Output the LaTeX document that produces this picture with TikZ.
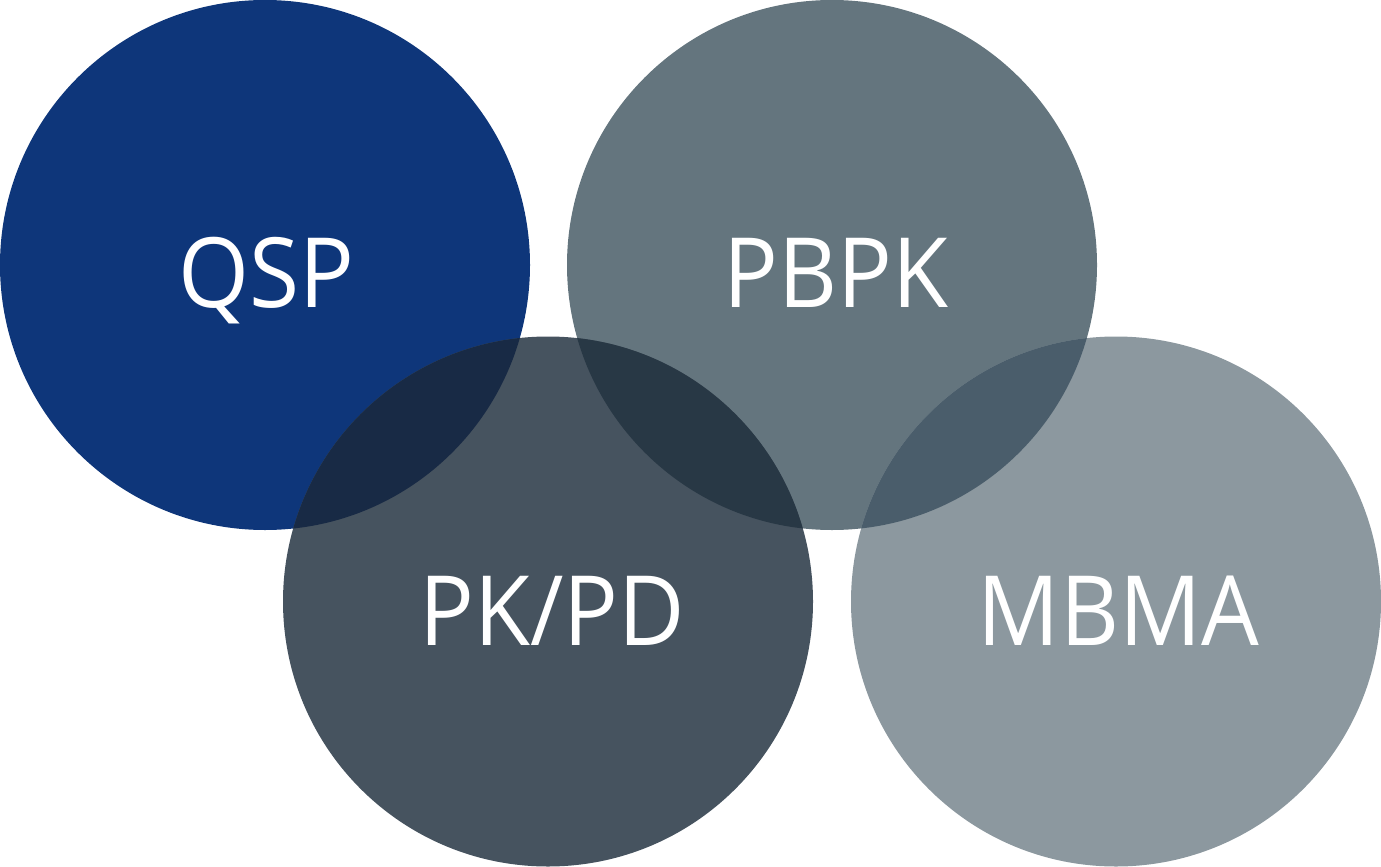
\documentclass[tikz,border=0pt]{standalone}
\usepackage{fontspec}
\setmainfont{Open Sans}[FakeStretch=0.94]
\definecolor{cqsp}{HTML}{0E367A}
\definecolor{cpbpk}{HTML}{64757E}
\definecolor{cpkpd}{HTML}{46535F}
\definecolor{cmbma}{HTML}{8C989F}
\definecolor{cqp}{HTML}{182A45}
\definecolor{cbp}{HTML}{283845}
\definecolor{cbm}{HTML}{4A5D6B}
\tikzset{
  disc/.style={circle, minimum size=530pt, inner sep=0pt, draw=none},
  lbl/.style={text=white, anchor=base, inner sep=0pt, font=\fontsize{97}{100}\selectfont}
}
\begin{document}
\begin{tikzpicture}[x=1pt,y=-1pt]
\useasboundingbox (0,0) rectangle (1381,867);
\node[disc, fill=cqsp] (qsp) at (265,265) {};
\node[disc, fill=cpbpk] (pbpk) at (832,265) {};
\node[disc, fill=cpkpd] (pkpd) at (548,601.5) {};
\node[disc, fill=cmbma] (mbma) at (1116,601.5) {};
\begin{scope}
  \clip (qsp.center) circle (265pt);
  \fill[cqp] (pkpd.center) circle (265pt);
\end{scope}
\begin{scope}
  \clip (pbpk.center) circle (265pt);
  \fill[cbp] (pkpd.center) circle (265pt);
\end{scope}
\begin{scope}
  \clip (pbpk.center) circle (265pt);
  \fill[cbm] (mbma.center) circle (265pt);
\end{scope}
\node[lbl] (tqsp) at (266.5,307) {QSP};
\node[lbl] (tpbpk) at (836,307) {PBPK};
\node[lbl] (tpkpd) at (552,645) {PK/PD};
\node[lbl] (tmbma) at (1118.5,645) {MBMA};
\end{tikzpicture}
\end{document}
